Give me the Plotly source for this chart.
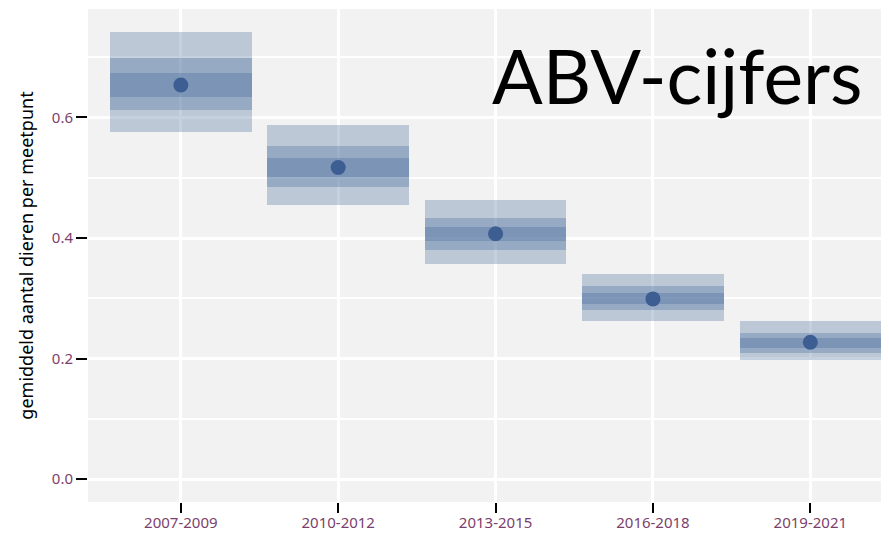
import plotly.graph_objects as go

# -----------------------------
# Data
# -----------------------------
periods = ["2007-2009", "2010-2012", "2013-2015", "2016-2018", "2019-2021"]
mean_values = [0.654, 0.517, 0.407, 0.299, 0.227]

outer_low = [0.576, 0.455, 0.357, 0.262, 0.197]
outer_high = [0.742, 0.588, 0.463, 0.341, 0.262]
middle_low = [0.613, 0.485, 0.380, 0.280, 0.210]
middle_high = [0.698, 0.553, 0.434, 0.320, 0.242]
inner_low = [0.634, 0.502, 0.395, 0.290, 0.218]
inner_high = [0.674, 0.533, 0.419, 0.309, 0.234]

y_ticks = [0.0, 0.2, 0.4, 0.6]

BAND_COLOR = "rgba(59, 95, 148, 0.29)"
POINT_COLOR = "#3d5e92"
TICK_COLOR = "#7b3f6b"

# the page body has an 8px margin, so the figure is made 8px smaller
FIG_W, FIG_H = 881, 526


def main():
    fig = go.Figure()

    # Interval bands, drawn on top of each other so the overlaps get darker
    for low, high in [(outer_low, outer_high), (middle_low, middle_high), (inner_low, inner_high)]:
        fig.add_trace(
            go.Bar(
                x=periods,
                y=[h - l for l, h in zip(low, high)],
                base=low,
                width=0.9,
                marker=dict(color=BAND_COLOR, line=dict(width=0)),
                showlegend=False,
                hoverinfo="skip",
            )
        )

    fig.add_trace(
        go.Scatter(
            x=periods,
            y=mean_values,
            mode="markers",
            marker=dict(color=POINT_COLOR, size=15),
            showlegend=False,
        )
    )

    fig.add_annotation(
        text="ABV-cijfers",
        xref="paper",
        yref="paper",
        x=0.970,
        y=0.962,
        xanchor="right",
        yanchor="top",
        showarrow=False,
        font=dict(family="Lato", size=75, color="black"),
    )

    fig.update_layout(
        width=FIG_W,
        height=FIG_H,
        barmode="overlay",
        bargap=0,
        paper_bgcolor="white",
        plot_bgcolor="#f2f2f2",
        margin=dict(l=80, r=0, t=1, b=32),
        font=dict(family="Noto Sans", size=15, color=TICK_COLOR),
    )

    fig.update_xaxes(
        type="category",
        range=[-0.59, 4.5],
        automargin=False,
        showgrid=True,
        gridcolor="white",
        gridwidth=2.5,
        ticks="outside",
        ticklen=10,
        tickwidth=2,
        tickcolor="black",
        ticklabelstandoff=-3,
        tickfont=dict(family="Noto Sans", size=15, color=TICK_COLOR),
        zeroline=False,
        showline=False,
    )

    fig.update_yaxes(
        range=[-0.038, 0.780],
        automargin=False,
        tickvals=y_ticks,
        ticktext=[f"{v:.1f}" for v in y_ticks],
        showgrid=True,
        gridcolor="white",
        gridwidth=2.5,
        minor=dict(dtick=0.1, tick0=0.1, showgrid=True, gridcolor="white", gridwidth=1.5),
        ticks="outside",
        ticklen=11,
        tickwidth=2,
        tickcolor="black",
        tickfont=dict(family="Noto Sans", size=15, color=TICK_COLOR),
        zeroline=False,
        showline=False,
        title=dict(
            text="gemiddeld aantal dieren per meetpunt",
            font=dict(family="Noto Sans", size=18, color="black"),
            standoff=13,
        ),
    )

    fig.write_html("out.html")


if __name__ == "__main__":
    main()
